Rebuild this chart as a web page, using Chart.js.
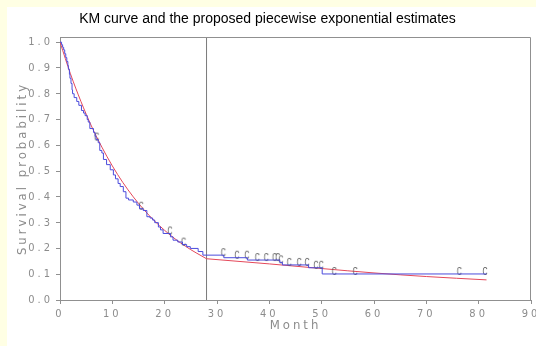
<!DOCTYPE html>
<html>
<head>
<meta charset="utf-8">
<script src="https://cdn.jsdelivr.net/npm/chart.js@4.4.1/dist/chart.umd.min.js"></script>
<style>
  html, body { margin: 0; padding: 0; background: #ffffe4; }
  #wrap { position: absolute; left: 7px; top: 7px; width: 529px; height: 339px; background: #fff; }
  #title { position: absolute; left: 0; top: 3px; width: 521px; line-height: 16px; text-align: center;
           font: 14px 'Liberation Sans', Arial, sans-serif; color: #000; }
  canvas { position: absolute; left: 0; top: 0; }
</style>
</head>
<body>
<div id="wrap">
  <canvas id="chart" width="529" height="339"></canvas>
  <div id="title">KM curve and the proposed piecewise exponential estimates</div>
</div>
<script>
// Kaplan-Meier steps: month of each drop and survival after it
const kmTime = [0, 0.3, 0.5, 0.7, 0.9, 1.1, 1.3, 1.5, 1.6, 1.8, 1.9, 2.1, 2.3, 2.4, 2.7, 3.2, 3.6, 4.1, 4.5, 4.8,
  5.2, 5.4, 5.7, 6.4, 6.7, 6.9, 7.3, 7.6, 8.0, 8.3, 8.9, 9.6, 10.2, 10.6, 11.1, 11.5, 12.1, 12.6, 13.1, 14.0,
  14.7, 15.2, 15.9, 16.6, 17.2, 17.7, 18.1, 18.8, 19.2, 19.7, 21.1, 21.6, 22.5, 23.4, 24.2, 24.9, 26.4, 27.3,
  31.3, 35.8, 42.0, 42.5, 47.5, 50.1, 81.5]
const kmSurv = [1.0, 0.99, 0.98, 0.97, 0.955, 0.94, 0.925, 0.91, 0.895, 0.875, 0.86, 0.84, 0.815, 0.80, 0.785, 0.77, 0.755, 0.735, 0.725, 0.715,
  0.70, 0.69, 0.665, 0.65, 0.635, 0.622, 0.61, 0.58, 0.57, 0.545, 0.525, 0.505, 0.485, 0.47, 0.452, 0.44, 0.42, 0.395, 0.388, 0.38,
  0.368, 0.354, 0.347, 0.323, 0.318, 0.31, 0.30, 0.283, 0.272, 0.258, 0.245, 0.232, 0.225, 0.215, 0.207, 0.20, 0.188, 0.174,
  0.164, 0.155, 0.146, 0.136, 0.125, 0.101, 0.101]

// censored observations ("C" marks)
const censorTime = [7.0, 15.5, 21.0, 23.6, 31.2, 33.8, 35.7, 37.7, 39.4, 41.0, 41.6, 42.2, 43.8, 45.7, 47.2, 48.9, 49.9, 52.4, 56.4, 76.3, 81.2]
const censorSurv = [0.622, 0.354, 0.258, 0.215, 0.174, 0.164, 0.164, 0.155, 0.155, 0.155, 0.155, 0.146, 0.136, 0.136, 0.136, 0.125, 0.125, 0.101, 0.101, 0.101, 0.101]

// piecewise exponential estimate
const piece1Time = [0, 2, 4, 6, 8, 10, 12, 14, 16, 18, 20, 22, 24, 26, 28]
const piece1Surv = [1.0, 0.877, 0.77, 0.675, 0.593, 0.52, 0.456, 0.40, 0.351, 0.308, 0.27, 0.237, 0.208, 0.183, 0.16]
const piece2Time = [28, 40, 50, 60, 70, 81.5]
const piece2Surv = [0.16, 0.14, 0.122, 0.105, 0.091, 0.078]

const cutMonth = 28
const xMax = 90
const yMax = 1.02

const pts = (xs, ys) => xs.map((x, i) => ({ x, y: ys[i] }))

const tickFont = { family: "'Liberation Sans Narrow', 'DejaVu Sans Condensed', 'Liberation Sans'", size: 11 }
const grey = '#8c8c8c'
const lineGrey = '#909090'

// little "C" glyph used as point style for censored times
const cMark = document.createElement('canvas')
cMark.width = 8
cMark.height = 16
const cctx = cMark.getContext('2d')
cctx.scale(0.7, 1)
cctx.font = "10px 'Liberation Sans'"
cctx.fillStyle = '#555'
cctx.textAlign = 'center'
cctx.fillText('C', 4 / 0.7, 9)

const frame = {
  id: 'frame',
  beforeDraw(chart) {
    chart.ctx.letterSpacing = '3px'
  },
  afterDraw(chart) {
    const { ctx, chartArea: a } = chart
    ctx.save()
    ctx.strokeStyle = lineGrey
    ctx.lineWidth = 1
    ctx.beginPath()
    ctx.moveTo(a.left, Math.round(a.top) + 0.5)
    ctx.lineTo(Math.round(a.right) - 0.5, Math.round(a.top) + 0.5)
    ctx.lineTo(Math.round(a.right) - 0.5, a.bottom)
    ctx.stroke()
    ctx.restore()
  },
}

new Chart(document.getElementById('chart'), {
  type: 'line',
  data: {
    datasets: [
      {
        label: 'KM',
        data: pts(kmTime, kmSurv),
        stepped: 'before',
        borderColor: '#4b4bdc',
        borderWidth: 1,
        pointRadius: 0,
      },
      {
        label: 'censored',
        data: pts(censorTime, censorSurv),
        showLine: false,
        pointStyle: cMark,
        pointRadius: 3,
      },
      {
        label: 'piece 1',
        data: pts(piece1Time, piece1Surv),
        borderColor: '#e4485a',
        borderWidth: 1,
        pointRadius: 0,
        cubicInterpolationMode: 'monotone',
      },
      {
        label: 'piece 2',
        data: pts(piece2Time, piece2Surv),
        borderColor: '#e4485a',
        borderWidth: 1,
        pointRadius: 0,
        cubicInterpolationMode: 'monotone',
      },
      {
        label: 'cut',
        data: [{ x: cutMonth, y: 0 }, { x: cutMonth, y: yMax }],
        borderColor: '#7a7a7a',
        borderWidth: 1,
        pointRadius: 0,
      },
    ],
  },
  options: {
    responsive: false,
    animation: false,
    devicePixelRatio: 1,
    layout: { padding: { top: 30, right: 5, left: 0, bottom: 0 } },
    plugins: { legend: { display: false }, tooltip: { enabled: false } },
    scales: {
      x: {
        type: 'linear',
        min: 0,
        max: xMax,
        grid: { drawOnChartArea: false, tickLength: 4, color: lineGrey },
        border: { color: lineGrey },
        ticks: { stepSize: 10, padding: 4, color: grey, font: tickFont, maxRotation: 0 },
        title: { display: true, text: 'Month', color: grey, font: { ...tickFont, size: 13 }, padding: { top: 0, bottom: 13 } },
        afterFit(s) { s.height = 46; s.paddingLeft = 0; s.paddingRight = 0 },
      },
      y: {
        min: 0,
        max: yMax,
        grid: { drawOnChartArea: false, tickLength: 4, color: lineGrey },
        border: { color: lineGrey },
        ticks: { stepSize: 0.1, includeBounds: false, padding: 3, color: grey, font: tickFont, callback: v => v.toFixed(1) },
        afterBuildTicks(s) { s.ticks = s.ticks.filter(t => t.value <= 1.0001) },
        title: { display: true, text: 'Survival probability', color: grey, font: { ...tickFont, size: 13 }, padding: { top: 8, bottom: 0 } },
        afterFit(s) { s.width = 53; s.paddingTop = 0; s.paddingBottom = 0 },
      },
    },
  },
  plugins: [frame],
})
</script>
</body>
</html>
